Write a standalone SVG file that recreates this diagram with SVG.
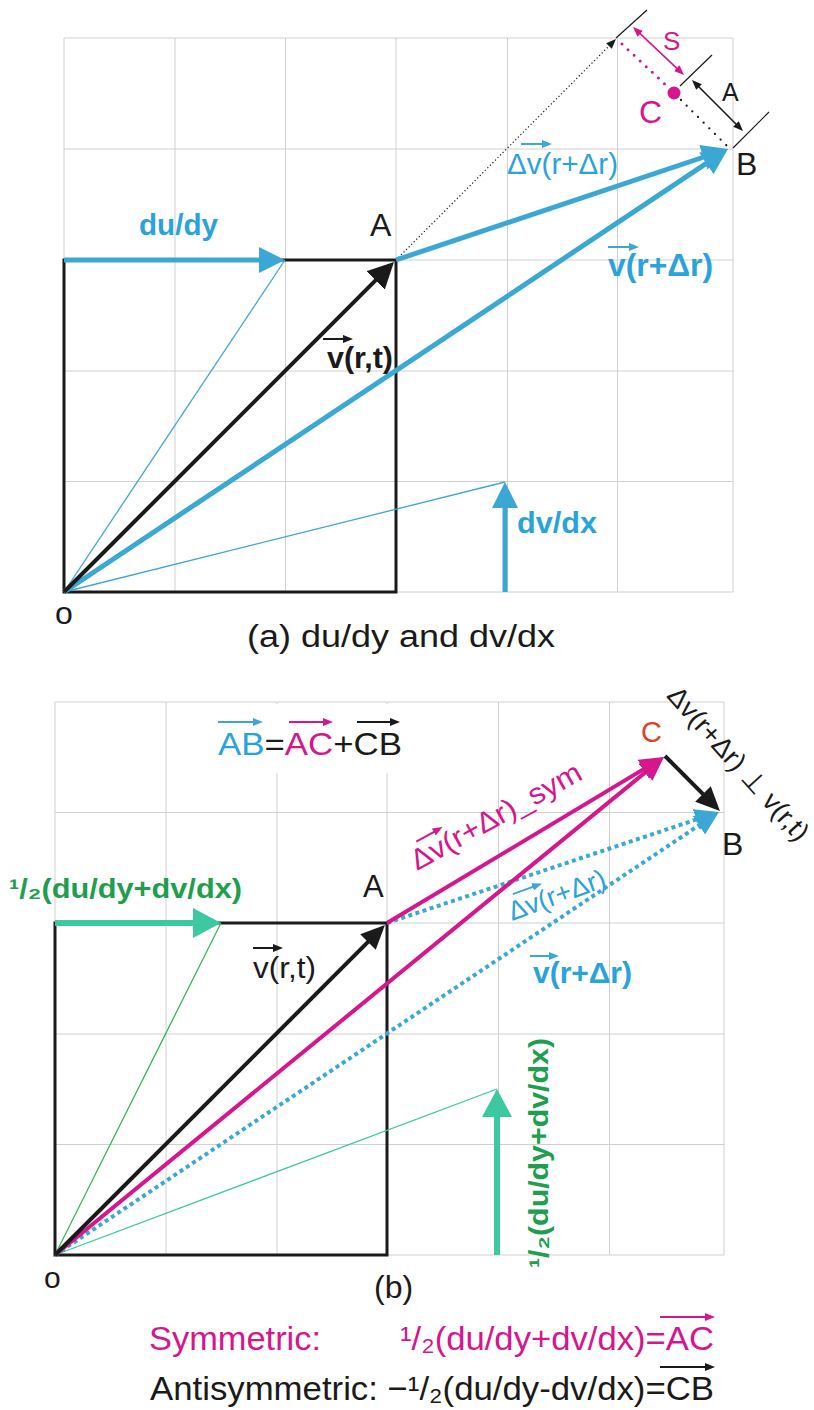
<svg xmlns="http://www.w3.org/2000/svg" width="814" height="1410" viewBox="0 0 814 1410">
<style>
.grid{stroke:#d0d0d0;stroke-width:1;fill:none}
.t{font-family:"Liberation Sans",Arial,"DejaVu Sans",sans-serif}
.b{font-weight:bold}
.blk{fill:#1a1a1a}
.blu{fill:#2aa3d8}
.mag{fill:#d5168c}
.grn{fill:#1e9e4e}
.red{fill:#dd4127}
</style>
<defs>
<marker id="hBlue" viewBox="0 0 26 26" refX="18" refY="13" markerWidth="26" markerHeight="26" markerUnits="userSpaceOnUse" orient="auto"><path d="M0,0 L26,13 L0,26 z" fill="#3aa7d5"/></marker>
<marker id="hBlack" viewBox="0 0 26 26" refX="18" refY="13" markerWidth="26" markerHeight="26" markerUnits="userSpaceOnUse" orient="auto"><path d="M0,0 L26,13 L0,26 z" fill="#1a1a1a"/></marker>
<marker id="hBlueS" viewBox="0 0 24 22" refX="16" refY="11" markerWidth="24" markerHeight="22" markerUnits="userSpaceOnUse" orient="auto"><path d="M0,0 L24,11 L0,22 z" fill="#3aa7d5"/></marker>
<marker id="hBlackS" viewBox="0 0 24 22" refX="16" refY="11" markerWidth="24" markerHeight="22" markerUnits="userSpaceOnUse" orient="auto"><path d="M0,0 L24,11 L0,22 z" fill="#1a1a1a"/></marker>
<marker id="hMag" viewBox="0 0 24 22" refX="16" refY="11" markerWidth="24" markerHeight="22" markerUnits="userSpaceOnUse" orient="auto"><path d="M0,0 L24,11 L0,22 z" fill="#d5168c"/></marker>
<marker id="hTeal" viewBox="0 0 28 30" refX="20" refY="15" markerWidth="28" markerHeight="30" markerUnits="userSpaceOnUse" orient="auto"><path d="M0,0 L28,15 L0,30 z" fill="#3cc8a0"/></marker>
<marker id="sBlue" viewBox="0 0 10 8" refX="6" refY="4" markerWidth="10" markerHeight="8" markerUnits="userSpaceOnUse" orient="auto"><path d="M0,0 L10,4 L0,8 z" fill="#3aa7d5"/></marker>
<marker id="sMag" viewBox="0 0 10 8" refX="6" refY="4" markerWidth="10" markerHeight="8" markerUnits="userSpaceOnUse" orient="auto"><path d="M0,0 L10,4 L0,8 z" fill="#d5168c"/></marker>
<marker id="sBlack" viewBox="0 0 10 8" refX="6" refY="4" markerWidth="10" markerHeight="8" markerUnits="userSpaceOnUse" orient="auto"><path d="M0,0 L10,4 L0,8 z" fill="#1a1a1a"/></marker>
<marker id="dMag" viewBox="0 0 10 8" refX="6" refY="4" markerWidth="10" markerHeight="8" markerUnits="userSpaceOnUse" orient="auto-start-reverse"><path d="M0,0 L10,4 L0,8 z" fill="#d5168c"/></marker>
<marker id="dBlack" viewBox="0 0 10 8" refX="6" refY="4" markerWidth="10" markerHeight="8" markerUnits="userSpaceOnUse" orient="auto-start-reverse"><path d="M0,0 L10,4 L0,8 z" fill="#1a1a1a"/></marker>
</defs>
<rect width="814" height="1410" fill="#ffffff"/>

<!-- top grid -->
<g id="grid-a" class="grid">
<path d="M64,38V592M175,38V592M285.5,38V592M396,38V592M507.5,38V592M617.5,38V592M733,38V592"/>
<path d="M64,38H733M64,149H733M64,260H733M64,371H733M64,481.5H733M64,592H733"/>
</g>

<!-- bottom grid -->
<g id="grid-b" class="grid">
<path d="M55,702V1255M166,702V1255M277,702V1255M387,702V1255M498.5,702V1255M609.5,702V1255M724,702V1255"/>
<path d="M55,702H724M55,812.5H724M55,923H724M55,1034H724M55,1144.5H724M55,1255H724"/>
</g>
<rect x="204" y="704" width="202" height="69" fill="#ffffff"/>

<!-- connectors -->
<g id="connectors" fill="none">
<!-- panel a -->
<rect x="64" y="260" width="332" height="332" stroke="#1a1a1a" stroke-width="3"/>
<path d="M64,592 L285,260" stroke="#3aa7d5" stroke-width="1.3"/>
<path d="M64,592 L505,482" stroke="#3aa7d5" stroke-width="1.3"/>
<path d="M396,260 L613.2,41.8" stroke="#1a1a1a" stroke-width="1.2" stroke-dasharray="1.2 2.4" marker-end="url(#sBlack)"/>
<path d="M622,44 L668,87" stroke="#d5168c" stroke-width="3" stroke-linecap="round" stroke-dasharray="0 8.3"/>
<path d="M681,100 L727,146" stroke="#1a1a1a" stroke-width="2.3" stroke-linecap="round" stroke-dasharray="0 8"/>
<path d="M616,38 L647,10 M680,86 L712,55 M733,148 L769,112" stroke="#1a1a1a" stroke-width="1.2"/>
<path d="M635.9,29.7 L681.1,72.3" stroke="#d5168c" stroke-width="1.6" marker-start="url(#dMag)" marker-end="url(#dMag)"/>
<path d="M694.8,82.8 L740.2,128.2" stroke="#1a1a1a" stroke-width="1.6" marker-start="url(#dBlack)" marker-end="url(#dBlack)"/>
<path d="M64,260 L277,260" stroke="#3aa7d5" stroke-width="5" marker-end="url(#hBlue)"/>
<path d="M505,592 L505,490" stroke="#3aa7d5" stroke-width="5" marker-end="url(#hBlue)"/>
<path d="M64,592 L721.3,153.4" stroke="#3aa7d5" stroke-width="5" marker-end="url(#hBlue)"/>
<path d="M396,260 L720.4,151.5" stroke="#3aa7d5" stroke-width="5" marker-end="url(#hBlue)"/>
<path d="M64,592 L388.3,267.7" stroke="#1a1a1a" stroke-width="4" marker-end="url(#hBlack)"/>

<!-- panel b -->
<rect x="55" y="923" width="332" height="332" stroke="#1a1a1a" stroke-width="3"/>
<path d="M55,1255 L221,923" stroke="#3cb45a" stroke-width="1.3"/>
<path d="M55,1255 L497,1089" stroke="#3cc8a0" stroke-width="1.3"/>
<path d="M55,923 L213,923" stroke="#3cc8a0" stroke-width="6" marker-end="url(#hTeal)"/>
<path d="M497,1255 L497,1097" stroke="#3cc8a0" stroke-width="6" marker-end="url(#hTeal)"/>
<path d="M387,923 L711.4,814.5" stroke="#3aa7d5" stroke-width="4" stroke-dasharray="4 3.5" marker-end="url(#hBlueS)"/>
<path d="M55,1255 L712.3,816.4" stroke="#3aa7d5" stroke-width="4" stroke-dasharray="4 3.5" marker-end="url(#hBlueS)"/>
<path d="M55,1255 L657.8,762.1" stroke="#d5168c" stroke-width="4" marker-end="url(#hMag)"/>
<path d="M387,923 L657.1,761.1" stroke="#d5168c" stroke-width="4" marker-end="url(#hMag)"/>
<path d="M55,1255 L379.3,930.7" stroke="#1a1a1a" stroke-width="4" marker-end="url(#hBlackS)"/>
<path d="M665,756 L714.3,805.3" stroke="#1a1a1a" stroke-width="4" marker-end="url(#hBlackS)"/>

<!-- over-arrows -->
<g stroke-width="2">
<path d="M323,339 H349" stroke="#1a1a1a" marker-end="url(#sBlack)"/>
<path d="M521,144 H548" stroke="#3aa7d5" marker-end="url(#sBlue)"/>
<path d="M608,247 H635" stroke="#3aa7d5" marker-end="url(#sBlue)"/>
<path d="M218,722 H259" stroke="#3aa7d5" marker-end="url(#sBlue)"/>
<path d="M289,722 H329" stroke="#d5168c" marker-end="url(#sMag)"/>
<path d="M357,722 H396" stroke="#1a1a1a" marker-end="url(#sBlack)"/>
<path d="M253,948 H279" stroke="#1a1a1a" marker-end="url(#sBlack)"/>
<path d="M530,956 H555" stroke="#3aa7d5" marker-end="url(#sBlue)"/>
<path d="M660,1317 H711" stroke="#d5168c" marker-end="url(#sMag)"/>
<path d="M660,1367 H711" stroke="#1a1a1a" marker-end="url(#sBlack)"/>
</g>
</g>

<!-- nodes / labels panel a -->
<g id="node-o-a"><text class="t blk" x="55" y="624" font-size="32">o</text></g>
<g id="node-A-a"><text class="t blk" x="370" y="236" font-size="32">A</text></g>
<g id="node-B-a"><text class="t blk" x="736" y="175" font-size="32">B</text></g>
<g id="node-C-a"><circle cx="674" cy="93" r="6.5" fill="#d5168c"/><text class="t mag" x="639" y="123" font-size="32">C</text></g>
<g id="label-S"><text class="t mag" x="663" y="50" font-size="26">S</text></g>
<g id="label-A-dist"><text class="t blk" x="722" y="101" font-size="25">A</text></g>
<g id="label-dudy"><text class="t b blu" x="139" y="235" font-size="29" textLength="79" lengthAdjust="spacingAndGlyphs">du/dy</text></g>
<g id="label-dvdx"><text class="t b blu" x="517" y="533" font-size="30" textLength="80" lengthAdjust="spacingAndGlyphs">dv/dx</text></g>
<g id="label-vrt-a"><text class="t b blk" x="327" y="368" font-size="29" textLength="66" lengthAdjust="spacingAndGlyphs">v(r,t)</text></g>
<g id="label-dv-a"><text class="t blu" x="507" y="174" font-size="30" textLength="111" lengthAdjust="spacingAndGlyphs">Δv(r+Δr)</text></g>
<g id="label-v-a"><text class="t b blu" x="608" y="276" font-size="31" textLength="105" lengthAdjust="spacingAndGlyphs">v(r+Δr)</text></g>
<g id="caption-a"><text class="t blk" x="247" y="647" font-size="31" textLength="308" lengthAdjust="spacingAndGlyphs">(a)  du/dy and dv/dx</text></g>

<!-- nodes / labels panel b -->
<g id="label-eq"><text class="t" x="218" y="755" font-size="31" textLength="184" lengthAdjust="spacingAndGlyphs"><tspan class="blu">AB</tspan><tspan class="blk">=</tspan><tspan class="mag">AC</tspan><tspan class="blk">+CB</tspan></text></g>
<g id="node-o-b"><text class="t blk" x="44" y="1288" font-size="30">o</text></g>
<g id="node-A-b"><text class="t blk" x="363" y="897" font-size="31">A</text></g>
<g id="node-B-b"><text class="t blk" x="722" y="855" font-size="32">B</text></g>
<g id="node-C-b"><text class="t red" x="641" y="742" font-size="29">C</text></g>
<g id="label-half-h"><text class="t b grn" x="9" y="898" font-size="28" textLength="233" lengthAdjust="spacingAndGlyphs">¹/₂(du/dy+dv/dx)</text></g>
<g id="label-half-v"><text class="t b grn" x="548" y="1268" font-size="28" transform="rotate(-90 548 1268)" textLength="230" lengthAdjust="spacingAndGlyphs">¹/₂(du/dy+dv/dx)</text></g>
<g id="label-vrt-b"><text class="t blk" x="253" y="978" font-size="30" textLength="63" lengthAdjust="spacingAndGlyphs">v(r,t)</text></g>
<g id="label-v-b"><text class="t b blu" x="533" y="983" font-size="30" textLength="99" lengthAdjust="spacingAndGlyphs">v(r+Δr)</text></g>
<g id="label-dvsym" transform="translate(417,871) rotate(-29)">
<text class="t mag" x="0" y="0" font-size="29" textLength="191" lengthAdjust="spacingAndGlyphs">Δv(r+Δr)_sym</text>
<path d="M13.6,-26 H39.6" stroke="#d5168c" stroke-width="2" marker-end="url(#sMag)"/>
</g>
<g id="label-dv-b" transform="translate(512,921) rotate(-20)">
<text class="t blu" x="0" y="0" font-size="27" textLength="102" lengthAdjust="spacingAndGlyphs">Δv(r+Δr)</text>
<path d="M10,-25 H37" stroke="#3aa7d5" stroke-width="2" marker-end="url(#sBlue)"/>
</g>
<g id="label-perp"><text class="t blk" x="731.6" y="769.8" font-size="27" text-anchor="middle" transform="rotate(48 731.6 769.8)" textLength="197" lengthAdjust="spacingAndGlyphs">Δv(r+Δr) ⊥ v(r,t)</text></g>
<g id="caption-b"><text class="t blk" x="374" y="1298" font-size="32">(b)</text></g>
<g id="legend">
<text class="t mag" x="149" y="1350" font-size="34" textLength="172" lengthAdjust="spacingAndGlyphs">Symmetric:</text>
<text class="t mag" x="400" y="1350" font-size="34" textLength="314" lengthAdjust="spacingAndGlyphs">¹/₂(du/dy+dv/dx)=AC</text>
<text class="t blk" x="150" y="1400" font-size="34" textLength="564" lengthAdjust="spacingAndGlyphs">Antisymmetric: −¹/₂(du/dy-dv/dx)=CB</text>
</g>
</svg>
